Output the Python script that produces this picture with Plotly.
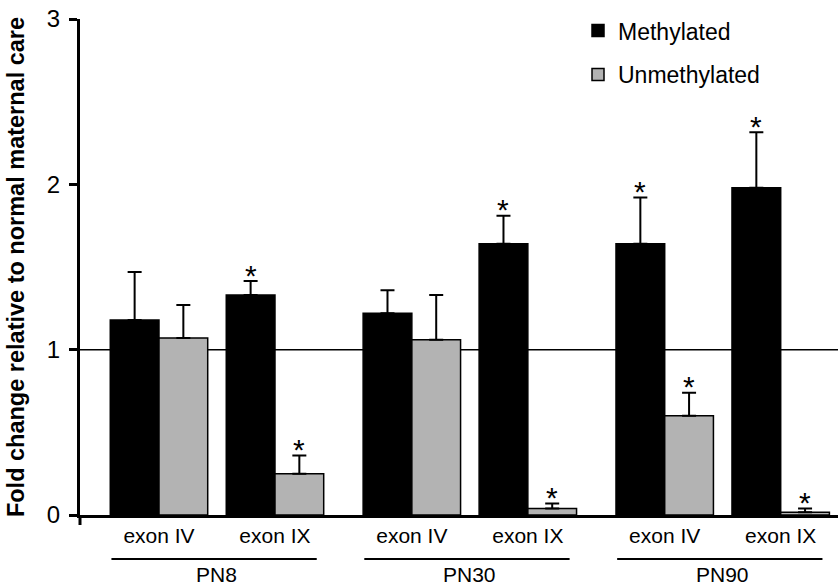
import plotly.graph_objects as go

# ---- data ----
groups = ["PN8", "PN30", "PN90"]
exons = ["exon IV", "exon IX"]
methylated = [1.18, 1.33, 1.22, 1.64, 1.64, 1.98]
methylated_err = [0.29, 0.085, 0.14, 0.17, 0.28, 0.335]
methylated_sig = [False, True, False, True, True, True]
unmethylated = [1.07, 0.25, 1.06, 0.04, 0.60, 0.016]
unmethylated_err = [0.20, 0.11, 0.27, 0.03, 0.14, 0.024]
unmethylated_sig = [False, True, False, True, True, True]
y_ticks = [0, 1, 2, 3]

# ---- layout helpers ----
GROUP_STEP = 2.18
BAR_W = 0.42
positions = [g * GROUP_STEP + i for g in range(len(groups)) for i in range(len(exons))]
ticktext = [e for _ in groups for e in exons]
FONT = "Liberation Sans, Arial, sans-serif"

fig = go.Figure()

fig.add_trace(go.Bar(
    x=positions, y=methylated, width=BAR_W, offset=-BAR_W,
    name="Methylated", legendgroup="m",
    marker=dict(color="black", line=dict(color="black", width=1.5)),
    error_y=dict(type="data", array=methylated_err, arrayminus=[0] * len(methylated),
                 symmetric=False, color="black", thickness=2, width=7),
))
fig.add_trace(go.Bar(
    x=positions, y=unmethylated, width=BAR_W, offset=0,
    name="Unmethylated", legendgroup="u",
    marker=dict(color="#b3b3b3", line=dict(color="black", width=1.5)),
    error_y=dict(type="data", array=unmethylated_err, arrayminus=[0] * len(unmethylated),
                 symmetric=False, color="black", thickness=2, width=7),
))

# significance asterisks
def add_stars(vals, errs, sig, shift):
    for p, v, e, s in zip(positions, vals, errs, sig):
        if s:
            fig.add_annotation(x=p + shift, y=v + e, xref="x", yref="y",
                               text="*", showarrow=False, yanchor="middle",
                               yshift=6,
                               font=dict(family=FONT, size=30, color="black"))

add_stars(methylated, methylated_err, methylated_sig, -BAR_W / 2)
add_stars(unmethylated, unmethylated_err, unmethylated_sig, BAR_W / 2)

# reference line at 1
fig.add_shape(type="line", xref="paper", x0=0, x1=1, yref="y", y0=1, y1=1,
              line=dict(color="black", width=1.5), layer="below")

# y axis extension below x axis
fig.add_shape(type="line", xref="paper", x0=0, x1=0, yref="paper",
              ysizemode="pixel", yanchor=0, y0=0, y1=-10,
              line=dict(color="black", width=3))

# group labels with underline
for g, name in enumerate(groups):
    first = positions[g * len(exons)]
    last = positions[g * len(exons) + len(exons) - 1]
    fig.add_shape(type="line", xref="x", x0=first - 0.41, x1=last + 0.36,
                  yref="paper", ysizemode="pixel", yanchor=0, y0=-44, y1=-44,
                  line=dict(color="black", width=2))
    fig.add_annotation(x=(first + last) / 2, xref="x", y=0, yref="paper",
                       yshift=-59, text=name, showarrow=False,
                       font=dict(family=FONT, size=21, color="black"),
                       yanchor="middle")

fig.update_layout(
    width=838, height=588,
    margin=dict(l=80, r=0, t=18.5, b=73),
    paper_bgcolor="white", plot_bgcolor="white",
    barmode="overlay",
    font=dict(family=FONT, color="black"),
    showlegend=True,
    legend=dict(x=0.657, y=1.02, xanchor="left", yanchor="top",
                font=dict(family=FONT, size=23, color="black"),
                traceorder="grouped", tracegroupgap=11,
                bgcolor="rgba(0,0,0,0)"),
    xaxis=dict(range=[-0.681, 5.854], tickvals=positions, ticktext=ticktext,
               showline=True, linecolor="black", linewidth=3,
               ticks="", showgrid=False, zeroline=False,
               tickfont=dict(family=FONT, size=21, color="black")),
    yaxis=dict(range=[0, 3], tickvals=y_ticks,
               showline=True, linecolor="black", linewidth=3,
               ticks="outside", ticklen=8, tickwidth=3, tickcolor="black",
               ticklabelstandoff=4,
               showgrid=False, zeroline=False,
               tickfont=dict(family=FONT, size=24, color="black"),
               title=dict(text="<b>Fold change relative to normal maternal care</b>",
                          font=dict(family=FONT, size=23.5, color="black"),
                          standoff=16)),
)

fig.write_html("out.html")
